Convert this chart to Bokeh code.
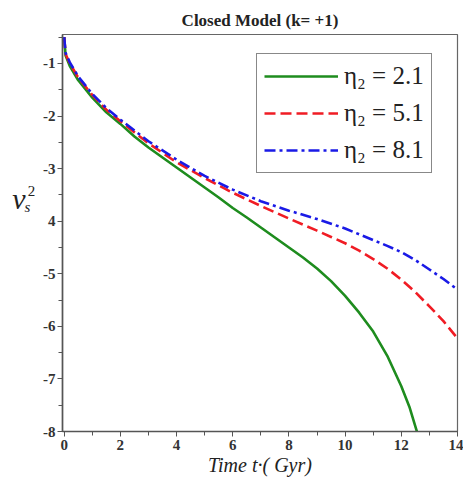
from bokeh.plotting import figure
from bokeh.models import Range1d, SingleIntervalTicker, Legend, LegendItem
from bokeh.layouts import row
from bokeh.core.properties import value
from bokeh.embed import file_html
from bokeh.resources import INLINE

# ---- data ----
t_green = [0, 0.05, 0.2, 0.5, 1, 1.5, 2, 2.5, 3, 3.5, 4, 4.5, 5, 5.5, 6, 6.5, 7, 7.5, 8,
           8.5, 9, 9.5, 10, 10.5, 11, 11.5, 12, 12.3, 12.6, 12.8]
v_green = [-0.5, -0.85, -1.05, -1.32, -1.65, -1.93, -2.15, -2.39, -2.6, -2.79, -2.98, -3.17, -3.36,
           -3.55, -3.75, -3.93, -4.12, -4.31, -4.5, -4.69, -4.9, -5.14, -5.42, -5.74, -6.1, -6.56,
           -7.14, -7.55, -8.08, -8.45]

t_red = [0, 0.05, 0.2, 0.5, 1, 1.5, 2, 3, 4, 5, 6, 7, 8, 9, 9.5, 10, 10.5, 11, 11.5, 12, 12.5,
         13, 13.5, 14]
v_red = [-0.5, -0.82, -1.0, -1.27, -1.6, -1.88, -2.1, -2.52, -2.88, -3.18, -3.46, -3.71, -3.95,
         -4.18, -4.3, -4.42, -4.56, -4.72, -4.9, -5.11, -5.35, -5.62, -5.9, -6.23]

t_blue = [0, 0.05, 0.2, 0.5, 1, 1.5, 2, 3, 4, 5, 6, 7, 8, 9, 9.5, 10, 10.5, 11, 11.5, 12, 12.5,
          13, 13.5, 14]
v_blue = [-0.5, -0.8, -0.98, -1.25, -1.58, -1.85, -2.07, -2.48, -2.83, -3.14, -3.4, -3.62, -3.8,
          -3.96, -4.05, -4.14, -4.25, -4.36, -4.47, -4.59, -4.74, -4.92, -5.1, -5.3]

legend_labels = ["η₂ = 2.1", "η₂ = 5.1", "η₂ = 8.1"]
y_ticks = [-1, -2, -3, -4, -5, -6, -7, -8]
y_tick_text = ["-1", "-2", "-3", "4", "-5", "-6", "-7", "-8"]
title_text = "Closed Model (k= +1)"
x_label = "Time t·( Gyr)"
y_label_parts = ["v", "2", "s"]

SERIF = "Liberation Serif"
LEFT_W = 35

# ---- left strip carrying the y-axis label ----
lf = figure(width=LEFT_W, height=482, output_backend="svg", toolbar_location=None,
            x_range=Range1d(0, LEFT_W), y_range=Range1d(482, 0),
            min_border=0, min_border_left=0, min_border_right=0, min_border_top=0,
            min_border_bottom=0)
lf.axis.visible = False
lf.grid.visible = False
lf.outline_line_color = None
lf.text(x=[18.5], y=[199], text=[y_label_parts[0]], text_font=value(SERIF),
        text_font_style="italic", text_font_size="30px", text_align="center",
        text_baseline="middle", text_color="#222222")
lf.text(x=[31], y=[190], text=[y_label_parts[1]], text_font=value(SERIF),
        text_font_size="15px", text_align="center", text_baseline="middle",
        text_color="#222222")
lf.text(x=[27], y=[209], text=[y_label_parts[2]], text_font=value(SERIF),
        text_font_style="italic", text_font_size="15px", text_align="center",
        text_baseline="middle", text_color="#222222")

# ---- main plot ----
p = figure(width=463 - LEFT_W, height=482, output_backend="svg", toolbar_location=None,
           x_range=Range1d(-0.06, 14.0), y_range=Range1d(-8.0, -0.45),
           min_border_left=62 - LEFT_W, min_border_right=6, min_border_top=34,
           min_border_bottom=51)
p.grid.visible = False
p.outline_line_color = "#666666"
p.outline_line_width = 1.2
p.background_fill_color = "white"
p.border_fill_color = "white"

p.title.text = title_text
p.title.align = "center"
p.title.offset = -6
p.title.text_font = SERIF
p.title.text_font_style = "bold"
p.title.text_font_size = "17px"
p.title.text_color = "#222222"

r_g = p.line(t_green, v_green, line_color="#1e8c1e", line_width=2.6)
r_r = p.line(t_red, v_red, line_color="#f01c24", line_width=2.6, line_dash="11 5")
r_b = p.line(t_blue, v_blue, line_color="#1a1ae6", line_width=2.6, line_dash="11 4 3 4")

p.xaxis.ticker = SingleIntervalTicker(interval=2, num_minor_ticks=2)
p.yaxis.ticker = SingleIntervalTicker(interval=1, num_minor_ticks=2)
p.yaxis.major_label_overrides = {k: s for k, s in zip(y_ticks, y_tick_text)}
for ax in (p.xaxis[0], p.yaxis[0]):
    ax.axis_line_color = "#555555"
    ax.axis_line_width = 1.6
    ax.major_tick_line_color = "#555555"
    ax.minor_tick_line_color = "#555555"
    ax.major_tick_in = 0
    ax.major_tick_out = 5
    ax.minor_tick_in = 0
    ax.minor_tick_out = 4
    ax.major_label_text_font = SERIF
    ax.major_label_text_font_style = "bold"
    ax.major_label_text_font_size = "15px"
    ax.major_label_text_color = "#333333"
p.xaxis.major_label_standoff = 3
p.yaxis.major_label_standoff = 2

p.xaxis.axis_label = x_label
p.xaxis.axis_label_text_font = SERIF
p.xaxis.axis_label_text_font_style = "italic"
p.xaxis.axis_label_text_font_size = "20px"
p.xaxis.axis_label_text_color = "#222222"
p.xaxis.axis_label_standoff = 1

legend = Legend(items=[LegendItem(label=legend_labels[0], renderers=[r_g]),
                       LegendItem(label=legend_labels[1], renderers=[r_r]),
                       LegendItem(label=legend_labels[2], renderers=[r_b])],
                location=(194, 258))
legend.label_text_font = SERIF
legend.label_text_font_size = "25px"
legend.label_text_color = "#222222"
legend.glyph_width = 74
legend.glyph_height = 30
legend.label_height = 30
legend.spacing = 7
legend.padding = 7
legend.margin = 0
legend.label_standoff = 6
legend.border_line_color = "#111111"
legend.border_line_width = 1.6
legend.background_fill_alpha = 1.0
p.add_layout(legend, "center")

layout = row(lf, p, spacing=0)
open("out.html", "w").write(file_html(layout, INLINE))
